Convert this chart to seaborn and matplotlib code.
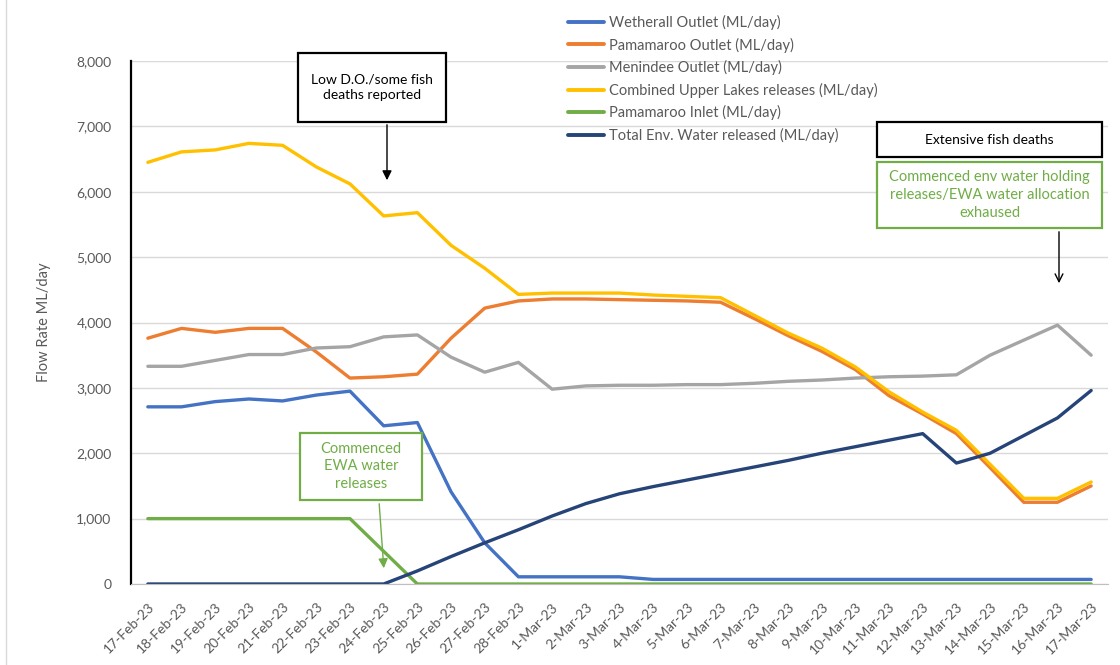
import numpy as np
import pandas as pd
import seaborn as sns
import matplotlib.pyplot as plt
from matplotlib.patches import Rectangle, FancyArrowPatch
from matplotlib.lines import Line2D
from matplotlib.ticker import FuncFormatter, MultipleLocator

# 数据
dates = ['17-Feb-23', '18-Feb-23', '19-Feb-23', '20-Feb-23', '21-Feb-23', '22-Feb-23',
         '23-Feb-23', '24-Feb-23', '25-Feb-23', '26-Feb-23', '27-Feb-23', '28-Feb-23',
         '1-Mar-23', '2-Mar-23', '3-Mar-23', '4-Mar-23', '5-Mar-23', '6-Mar-23',
         '7-Mar-23', '8-Mar-23', '9-Mar-23', '10-Mar-23', '11-Mar-23', '12-Mar-23',
         '13-Mar-23', '14-Mar-23', '15-Mar-23', '16-Mar-23', '17-Mar-23']
wetherall = [2710, 2710, 2790, 2830, 2800, 2890, 2950, 2420, 2470, 1410, 630, 110, 110, 110, 110,
             70, 70, 70, 70, 70, 70, 70, 70, 70, 70, 70, 70, 70, 70]
pamamaroo_out = [3760, 3910, 3850, 3910, 3910, 3550, 3150, 3170, 3210, 3760, 4220, 4330, 4360, 4360,
                 4350, 4340, 4330, 4310, 4060, 3800, 3560, 3280, 2880, 2600, 2300, 1780, 1250, 1250, 1500]
menindee = [3330, 3330, 3420, 3510, 3510, 3610, 3630, 3780, 3810, 3470, 3240, 3390, 2980, 3030,
            3040, 3040, 3050, 3050, 3070, 3100, 3120, 3150, 3170, 3180, 3200, 3500, 3730, 3960, 3500]
upper_lakes = [6450, 6610, 6640, 6740, 6710, 6380, 6120, 5630, 5680, 5180, 4830, 4430, 4450, 4450,
               4450, 4420, 4400, 4380, 4110, 3840, 3610, 3320, 2940, 2630, 2350, 1830, 1310, 1310, 1560]
pamamaroo_in = [1000, 1000, 1000, 1000, 1000, 1000, 1000, 500, 0, 0, 0, 0, 0, 0, 0,
                0, 0, 0, 0, 0, 0, 0, 0, 0, 0, 0, 0, 0, 0]
total_env = [0, 0, 0, 0, 0, 0, 0, 0, 200, 420, 630, 830, 1040, 1230, 1380, 1490, 1590, 1690,
             1790, 1890, 2000, 2100, 2200, 2300, 1850, 2000, 2270, 2540, 2960]

series = {
    'Wetherall Outlet (ML/day)': wetherall,
    'Pamamaroo Outlet (ML/day)': pamamaroo_out,
    'Menindee Outlet (ML/day)': menindee,
    'Combined Upper Lakes releases (ML/day)': upper_lakes,
    'Pamamaroo Inlet (ML/day)': pamamaroo_in,
    'Total Env. Water released (ML/day)': total_env,
}
colors = ['#4472C4', '#ED7D31', '#A5A5A5', '#FFC000', '#70AD47', '#264478']
names = list(series.keys())

df = pd.concat([pd.DataFrame({'day': range(len(dates)), 'value': v, 'series': k})
                for k, v in series.items()], ignore_index=True)

# 图
sns.set_style('white')
plt.rcParams['font.family'] = ['Lato', 'DejaVu Sans']
grey_txt = '#595959'
green = '#70AD47'

fig = plt.figure(figsize=(11.2, 6.65), dpi=100)
ax = fig.add_axes([131 / 1120, 1 - 584 / 665, 977 / 1120, 523 / 665])

sns.lineplot(data=df, x='day', y='value', hue='series', hue_order=names,
             palette=dict(zip(names, colors)), linewidth=2.4, sort=False, ax=ax, legend=False)

ax.set_xlim(-0.5, len(dates) - 0.5)
ax.set_ylim(0, 8000)
ax.yaxis.set_major_locator(MultipleLocator(1000))
ax.yaxis.set_major_formatter(FuncFormatter(lambda v, p: f'{int(v):,}'))
ax.grid(axis='y', color='#D9D9D9', linewidth=1)
ax.set_axisbelow(True)
ax.set_xticks(range(len(dates)))
ax.set_xticklabels(dates, rotation=45, ha='right', va='top', rotation_mode='anchor')
ax.set_xticks(np.arange(-0.5, len(dates)), minor=True)
ax.tick_params(axis='x', which='major', length=0, pad=12, labelsize=10, labelcolor=grey_txt)
ax.tick_params(axis='x', which='minor', length=5, color='#BFBFBF', width=1)
ax.tick_params(axis='y', length=0, pad=14, labelsize=10, labelcolor=grey_txt)
for s in ['top', 'right']:
    ax.spines[s].set_visible(False)
ax.spines['left'].set_color('black')
ax.spines['left'].set_linewidth(1.6)
ax.spines['bottom'].set_color('#BFBFBF')
ax.set_xlabel('')
ax.set_ylabel('Flow Rate ML/day', fontsize=10.5, color=grey_txt, labelpad=18)

# 图例
handles = [Line2D([0], [0], color=c, linewidth=2.8) for c in colors]
fig.legend(handles, names, loc='upper left', bbox_to_anchor=(562 / 1120, 1 - 9 / 665),
           frameon=False, fontsize=10.5, handlelength=2.5, handletextpad=0.3,
           labelspacing=0.52, labelcolor=grey_txt, borderaxespad=0)

# 注释框
def box(x0, y0, x1, y1, text, edge, tcolor, size):
    fig.patches.append(Rectangle((x0 / 1120, 1 - y1 / 665), (x1 - x0) / 1120, (y1 - y0) / 665,
                                 transform=fig.transFigure, facecolor='white', edgecolor=edge,
                                 linewidth=1.6, zorder=5))
    fig.text((x0 + x1) / 2 / 1120, 1 - (y0 + y1) / 2 / 665, text, ha='center', va='center',
             color=tcolor, fontsize=size, linespacing=1.35, zorder=6)

def arrow(x0, y0, x1, y1, color, style):
    fig.add_artist(FancyArrowPatch(
        (x0 / 1120, 1 - y0 / 665), (x1 / 1120, 1 - y1 / 665), transform=fig.transFigure,
        arrowstyle=style, color=color, linewidth=1, mutation_scale=14, zorder=6))

box(298, 53, 446, 122, 'Low D.O./some fish\ndeaths reported', 'black', 'black', 10)
arrow(387, 122, 387, 183, 'black', '-|>')
box(877, 122, 1102, 157, 'Extensive fish deaths', 'black', 'black', 10)
box(877, 162, 1102, 228, 'Commenced env water holding\nreleases/EWA water allocation\nexhaused',
    green, green, 10.5)
arrow(1059, 229, 1059, 286, 'black', '->')
box(300, 433, 422, 500, 'Commenced\nEWA water\nreleases', green, green, 10.5)
arrow(379, 501, 384, 571, green, '-|>')

# 外框
fig.add_artist(Line2D([6 / 1120, 6 / 1120], [0, 1], transform=fig.transFigure, color='#D9D9D9', linewidth=1))

fig.savefig('out.png', dpi=100)
